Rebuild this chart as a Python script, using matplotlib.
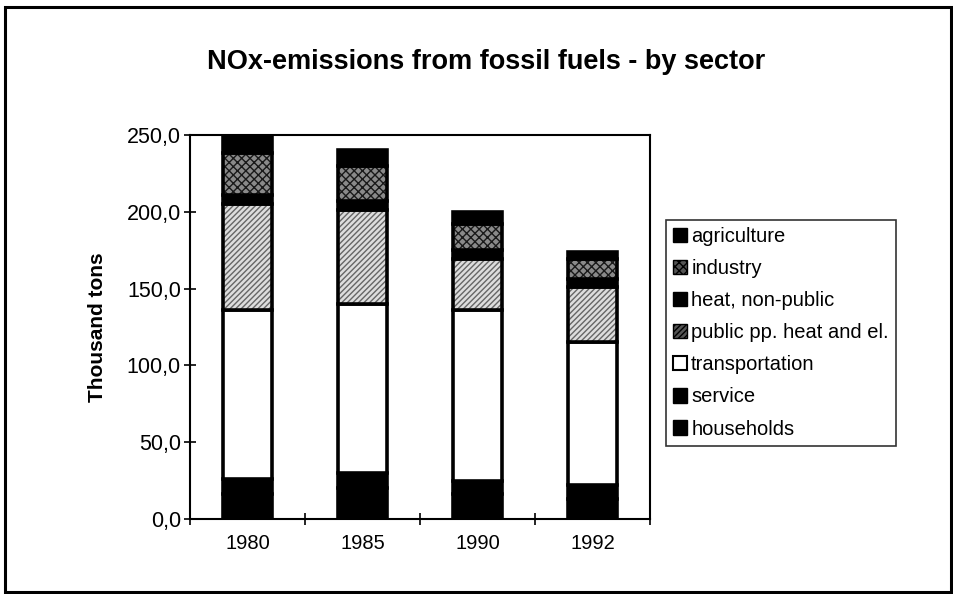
import matplotlib.pyplot as plt
from matplotlib.patches import Rectangle, Patch
import numpy as np

plt.rcParams['font.family'] = ['Liberation Sans', 'DejaVu Sans']

years = ['1980', '1985', '1990', '1992']
households = [16, 20, 16, 13]
service = [10, 10, 9, 9]
transportation = [110, 110, 111, 93]
public_pp = [69, 61, 33, 36]
heat_non_public = [6, 6, 6, 5]
industry = [27, 23, 17, 13]
agriculture = [12, 10, 8, 5]

sectors = ['households', 'service', 'transportation', 'public pp. heat and el.',
           'heat, non-public', 'industry', 'agriculture']
series = [households, service, transportation, public_pp,
          heat_non_public, industry, agriculture]
# face colour, hatch, hatch colour
styles = [('black', None, None),
          ('black', None, None),
          ('white', None, None),
          ('#dddddd', '//////', '#666666'),
          ('black', None, None),
          ('#8a8a8a', 'xxxx', '#1a1a1a'),
          ('black', None, None)]

fig = plt.figure(figsize=(9.54, 5.94), dpi=100)
ax = fig.add_axes([190 / 954, 1 - 519 / 594, 460 / 954, 384 / 594])

x = np.arange(len(years))
width = 0.43
bottom = np.zeros(len(years))
for vals, (fc, hatch, hc) in zip(series, styles):
    vals = np.array(vals, dtype=float)
    if hatch:
        ax.bar(x, vals, width, bottom=bottom, color=fc, hatch=hatch,
               edgecolor=hc, linewidth=0)
    else:
        ax.bar(x, vals, width, bottom=bottom, color=fc, linewidth=0)
    ax.bar(x, vals, width, bottom=bottom, fill=False, edgecolor='black',
           linewidth=2.6)
    bottom += vals

ax.set_xlim(-0.5, len(years) - 0.5)
ax.set_ylim(0, 250)
ax.set_yticks(np.arange(0, 251, 50))
ax.set_yticklabels([f'{v:.1f}'.replace('.', ',') for v in np.arange(0, 251, 50)])
ax.set_xticks(x)
ax.set_xticklabels(years)
ax.set_xticks(np.arange(-0.5, len(years)), minor=True)
ax.tick_params(axis='x', which='major', length=0, pad=11, labelsize=14.5)
ax.tick_params(axis='x', which='minor', direction='inout', length=9, width=1.2)
ax.tick_params(axis='y', direction='inout', length=9, width=1.2, labelsize=15.5, pad=2)
for s in ax.spines.values():
    s.set_linewidth(1.5)
ax.set_ylabel('Thousand tons', fontsize=15, fontweight='bold', labelpad=14)

fig.text(486 / 954, 1 - 62 / 594, 'NOx-emissions from fossil fuels - by sector',
         ha='center', va='center', fontsize=19.5, fontweight='bold')

handles = []
for (fc, hatch, hc) in styles:
    if hatch:
        handles.append(Patch(facecolor='#555555', edgecolor='black', hatch=hatch, linewidth=1))
    elif fc == 'white':
        handles.append(Patch(facecolor='white', edgecolor='black', linewidth=1.5))
    else:
        handles.append(Patch(facecolor='black', edgecolor='black'))
leg = fig.legend(handles[::-1], sectors[::-1], loc='upper left',
                 bbox_to_anchor=(666 / 954, 1 - 220 / 594), fontsize=14.5,
                 frameon=True, fancybox=False, edgecolor='black',
                 handlelength=0.7, handleheight=0.7, handletextpad=0.2,
                 labelspacing=0.65, borderpad=0.35, borderaxespad=0)
leg.get_frame().set_linewidth(1.2)

fig.patches.append(Rectangle((5 / 954, 1 - 592 / 594), 946 / 954, 585 / 594,
                             transform=fig.transFigure, fill=False,
                             edgecolor='black', linewidth=2.2))

fig.savefig('out.png', dpi=100)
